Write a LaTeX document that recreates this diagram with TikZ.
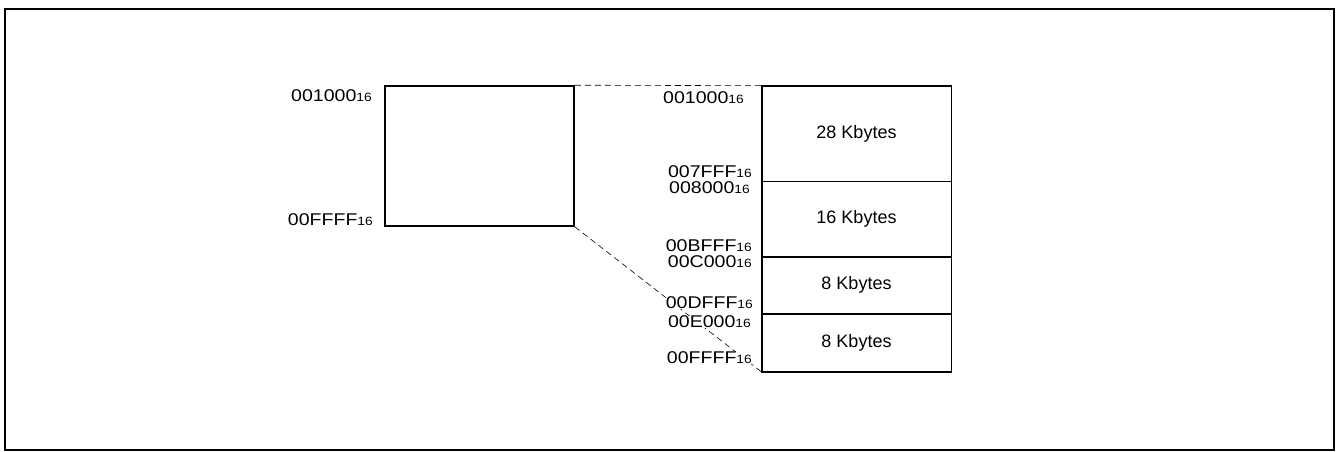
\documentclass[tikz,border=0pt]{standalone}
\usepackage{fontspec}
\setmainfont{Liberation Sans}
\newfontfamily\addrfont[FakeStretch=1.15]{Liberation Sans}
\usetikzlibrary{positioning}

\newcommand\hexnum[1]{#1{\fontsize{12}{12}\selectfont 16}}

\tikzset{
  addr/.style = {anchor=east, inner sep=0pt, fill=white, font=\addrfont\fontsize{17}{17}\selectfont},
  blk/.style = {draw, line width=0.6pt, minimum width=189pt, inner sep=0pt, font=\fontsize{18}{18}\selectfont},
  zoomline/.style = {dashed, line width=0.6pt, dash pattern=on 6pt off 4pt}
}

\begin{document}
\begin{tikzpicture}[x=1pt, y=-1pt]
        \useasboundingbox (0,0) rectangle (1337,451);
        \draw [line width=2pt] (5,9) rectangle (1334,450);
        % area of the whole map
        \node [draw, line width=1.6pt, minimum width=189pt, minimum height=140pt, inner sep=0pt] (rom) at (479.5,156) {};
        % the four blocks
        \node [blk, minimum height=95pt] (blk1) at (856.5,133.5) {28 Kbytes};
        \node [blk, minimum height=75pt, below=0pt of blk1] (blk2) {16 Kbytes};
        \node [blk, minimum height=56pt, below=0pt of blk2] (blk3) {8 Kbytes};
        \node [blk, minimum height=58pt, below=0pt of blk3] (blk4) {8 Kbytes};
        \draw [line width=1.6pt] (blk1.north west) rectangle (blk4.south east);
        % dashed lines between them
        \draw [zoomline] (rom.north east) -- (blk1.north west);
        \draw [zoomline] (rom.south east) -- (blk4.south west);
        % addresses
        \node [addr] (a1) at (372,96) {\hexnum{001000}};
        \node [addr] (a2) at (373,220) {\hexnum{00FFFF}};
        \node [addr] (b1) at (744,98) {\hexnum{001000}};
        \node [addr] (b2) at (752,172) {\hexnum{007FFF}};
        \node [addr] (b3) at (750,188) {\hexnum{008000}};
        \node [addr] (b4) at (752,246) {\hexnum{00BFFF}};
        \node [addr] (b5) at (752,262) {\hexnum{00C000}};
        \node [addr] (b6) at (753,303) {\hexnum{00DFFF}};
        \node [addr] (b7) at (751,322) {\hexnum{00E000}};
        \node [addr] (b8) at (752,358) {\hexnum{00FFFF}};
\end{tikzpicture}
\end{document}
